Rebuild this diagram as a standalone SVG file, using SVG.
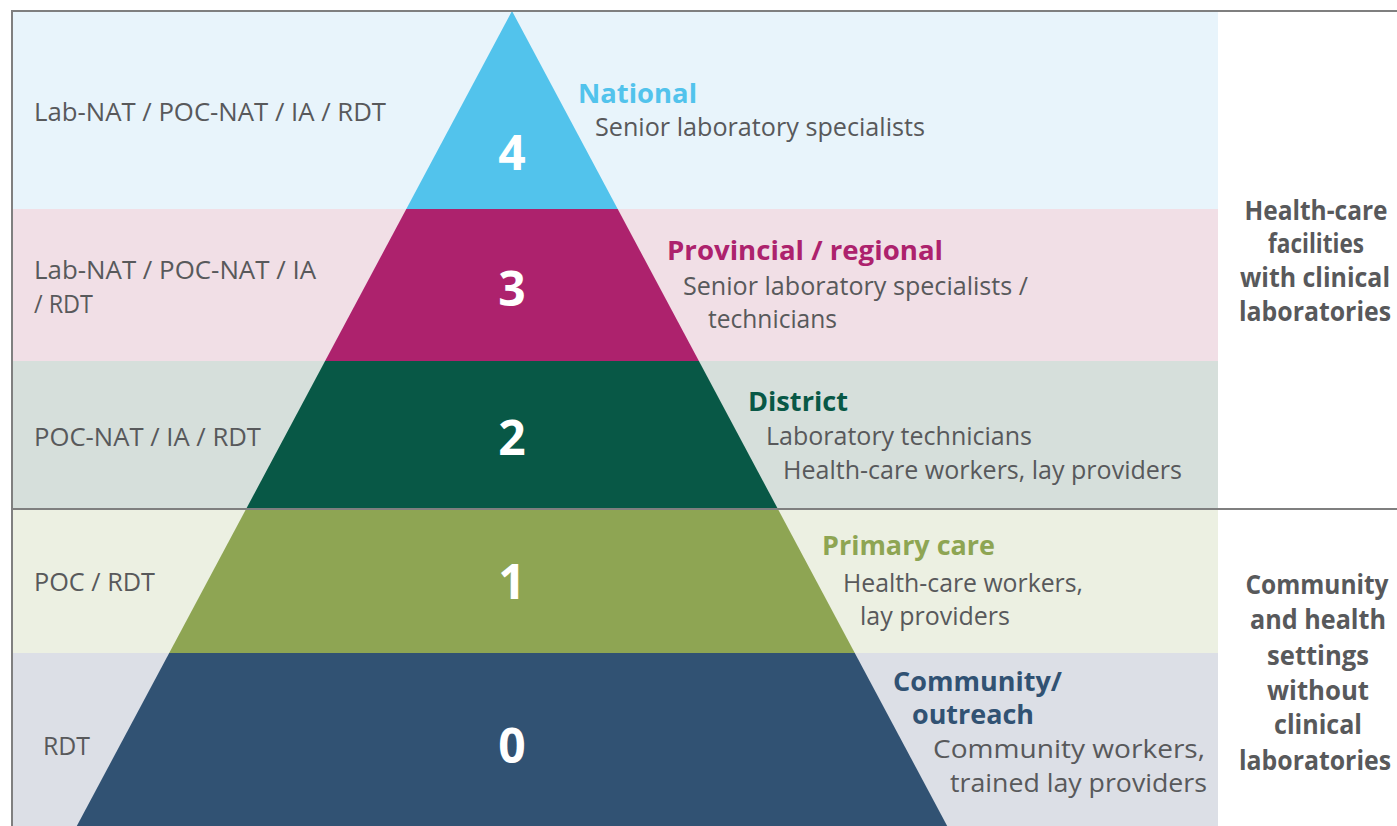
<svg xmlns="http://www.w3.org/2000/svg" width="1397" height="826" viewBox="0 0 1397 826">
<style>
.t{font-family:"Open Sans","Liberation Sans",sans-serif;font-size:26px;fill:#58595b;}
.h{font-family:"Open Sans","Liberation Sans",sans-serif;font-size:27px;font-weight:bold;}
.r{font-family:"Open Sans","Liberation Sans",sans-serif;font-size:26px;font-weight:bold;fill:#58595b;text-anchor:middle;}
.d{font-family:"Open Sans","Liberation Sans",sans-serif;font-size:48px;font-weight:bold;fill:#ffffff;text-anchor:middle;}
.border{stroke:#7f7f7f;stroke-width:2;fill:none;}
</style>
<rect x="0" y="0" width="1397" height="826" fill="#ffffff"/>
<g id="tier4">
<rect x="12" y="11" width="1206" height="198" fill="#e8f4fb"/>
<polygon points="512,11 617.7,209 406.3,209" fill="#52c3ec"/>
<text class="d" x="512" y="170">4</text>
<text class="t" x="34" y="121" textLength="352" lengthAdjust="spacingAndGlyphs">Lab-NAT / POC-NAT / IA / RDT</text>
<text class="h" x="578" y="103" fill="#52c3ec" textLength="119" lengthAdjust="spacingAndGlyphs">National</text>
<text class="t" x="595" y="136" textLength="330" lengthAdjust="spacingAndGlyphs">Senior laboratory specialists</text>
</g>
<g id="tier3">
<rect x="12" y="209" width="1206" height="152" fill="#f1dfe6"/>
<polygon points="406.3,209 617.7,209 698.9,361 325.1,361" fill="#ad226d"/>
<text class="d" x="512" y="306">3</text>
<text class="t" x="34" y="279" textLength="282" lengthAdjust="spacingAndGlyphs">Lab-NAT / POC-NAT / IA</text>
<text class="t" x="34" y="313" textLength="59" lengthAdjust="spacingAndGlyphs">/ RDT</text>
<text class="h" x="667" y="260" fill="#ad226d" textLength="276" lengthAdjust="spacingAndGlyphs">Provincial / regional</text>
<text class="t" x="683" y="295" textLength="345" lengthAdjust="spacingAndGlyphs">Senior laboratory specialists /</text>
<text class="t" x="708" y="328" textLength="129" lengthAdjust="spacingAndGlyphs">technicians</text>
</g>
<g id="tier2">
<rect x="12" y="361" width="1206" height="148" fill="#d6dfdb"/>
<polygon points="325.1,361 698.9,361 777.9,509 246.1,509" fill="#085846"/>
<text class="d" x="512" y="455">2</text>
<text class="t" x="34" y="446" textLength="227" lengthAdjust="spacingAndGlyphs">POC-NAT / IA / RDT</text>
<text class="h" x="748" y="411" fill="#085846" textLength="100" lengthAdjust="spacingAndGlyphs">District</text>
<text class="t" x="766" y="445" textLength="266" lengthAdjust="spacingAndGlyphs">Laboratory technicians</text>
<text class="t" x="783" y="479" textLength="399" lengthAdjust="spacingAndGlyphs">Health-care workers, lay providers</text>
</g>
<g id="tier1">
<rect x="12" y="509" width="1206" height="144" fill="#ecf0e2"/>
<polygon points="246.1,509 777.9,509 854.8,653 169.2,653" fill="#8ea553"/>
<text class="d" x="512" y="599">1</text>
<text class="t" x="34" y="591" textLength="121" lengthAdjust="spacingAndGlyphs">POC / RDT</text>
<text class="h" x="822" y="555" fill="#8ea553" textLength="173" lengthAdjust="spacingAndGlyphs">Primary care</text>
<text class="t" x="843" y="592" textLength="240" lengthAdjust="spacingAndGlyphs">Health-care workers,</text>
<text class="t" x="860" y="625" textLength="150" lengthAdjust="spacingAndGlyphs">lay providers</text>
</g>
<g id="tier0">
<rect x="12" y="653" width="1206" height="173" fill="#dcdfe6"/>
<polygon points="169.2,653 854.8,653 947.2,826 76.8,826" fill="#315273"/>
<text class="d" x="512" y="763">0</text>
<text class="t" x="43" y="755" textLength="47" lengthAdjust="spacingAndGlyphs">RDT</text>
<text class="h" x="893" y="691" fill="#315273" textLength="169" lengthAdjust="spacingAndGlyphs">Community/</text>
<text class="h" x="912" y="724" fill="#315273" textLength="122" lengthAdjust="spacingAndGlyphs">outreach</text>
<text class="t" x="933" y="758" textLength="272" lengthAdjust="spacingAndGlyphs">Community workers,</text>
<text class="t" x="950" y="792" textLength="257" lengthAdjust="spacingAndGlyphs">trained lay providers</text>
</g>
<g id="facilities-with-labs">
<text class="r" x="1316" y="220" textLength="143" lengthAdjust="spacingAndGlyphs">Health-care</text>
<text class="r" x="1316" y="253" textLength="96" lengthAdjust="spacingAndGlyphs">facilities</text>
<text class="r" x="1315" y="287" textLength="150" lengthAdjust="spacingAndGlyphs">with clinical</text>
<text class="r" x="1315" y="321" textLength="152" lengthAdjust="spacingAndGlyphs">laboratories</text>
</g>
<g id="settings-without-labs">
<text class="r" x="1317" y="594" textLength="143" lengthAdjust="spacingAndGlyphs">Community</text>
<text class="r" x="1318" y="629" textLength="136" lengthAdjust="spacingAndGlyphs">and health</text>
<text class="r" x="1318" y="665" textLength="102" lengthAdjust="spacingAndGlyphs">settings</text>
<text class="r" x="1318" y="700" textLength="102" lengthAdjust="spacingAndGlyphs">without</text>
<text class="r" x="1318" y="734" textLength="88" lengthAdjust="spacingAndGlyphs">clinical</text>
<text class="r" x="1315" y="770" textLength="152" lengthAdjust="spacingAndGlyphs">laboratories</text>
</g>
<g id="frame">
<polyline class="border" points="12,826 12,11 1397,11"/>
<line class="border" x1="12" y1="509" x2="1397" y2="509"/>
</g>
</svg>
